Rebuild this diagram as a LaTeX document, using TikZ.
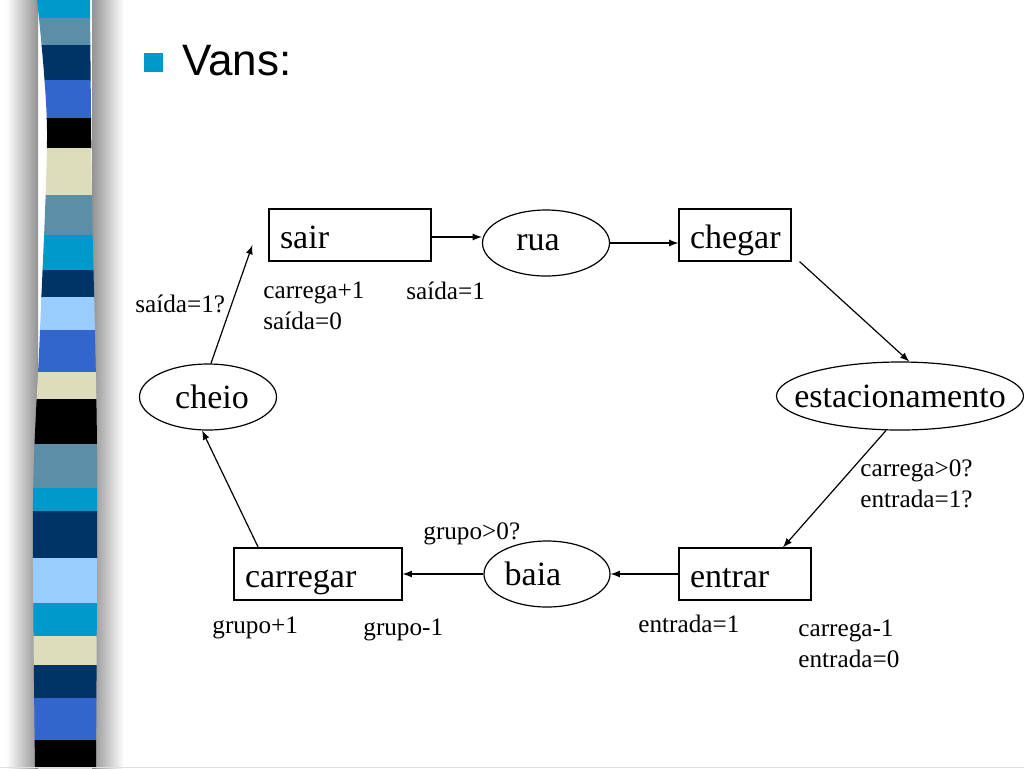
\documentclass[tikz,border=0pt]{standalone}
\usepackage{fontspec}
\setmainfont{Liberation Serif}
\newfontfamily\titlefont{Liberation Sans}
\usepackage{tikz}
\usetikzlibrary{arrows,shapes,positioning}
\definecolor{stcyan}{RGB}{0,153,204}
\definecolor{ststeel}{RGB}{91,143,168}
\definecolor{stnavy}{RGB}{0,51,102}
\definecolor{stroyal}{RGB}{51,102,204}
\definecolor{stbeige}{RGB}{221,221,187}
\definecolor{stlight}{RGB}{153,204,255}
\tikzset{
  trans/.style={rectangle, draw=black, line width=0.6pt, align=left, minimum height=26pt, inner xsep=5.5pt,
    inner ysep=0pt, font=\fontsize{17}{20}\selectfont, execute at begin node=\rule[-0.2em]{0pt}{1.2em}},
  place/.style 2 args={ellipse, draw=black, line width=0.6pt, inner sep=0pt,
    label={[font=\fontsize{17}{20}\selectfont, xshift=#2]center:#1}},
  cond/.style={anchor=west, align=left, inner sep=0pt, font=\fontsize{12.6}{15.5}\selectfont},
  flow/.style={every edge/.style={draw, line width=0.6pt, ->}},
}

\begin{document}
\begin{tikzpicture}[x=0.5pt, y=-0.5pt, >=latex]
  \useasboundingbox (0,0) rectangle (1024,768);
  % side stripe
  \shade[left color=white, right color=gray!85] (6,0) rectangle (38,768);
  \shade[left color=gray!85, right color=white] (92,0) rectangle (124,768);
  \begin{scope}
    \clip plot[smooth] coordinates {(37,0) (47,130) (40,330) (33,500) (35,768)}
      -- plot[smooth] coordinates {(96,768) (97,450) (92,200) (90,0)} -- cycle;
    \foreach \ya/\yb/\col in {0/18/stcyan, 18/45/ststeel, 45/80/stnavy, 80/118/stroyal,
      118/148/black, 148/195/stbeige, 195/235/ststeel, 235/270/stcyan, 270/297/stnavy,
      297/330/stlight, 330/372/stroyal, 372/399/stbeige, 399/444/black, 444/488/ststeel,
      488/511/stcyan, 511/558/stnavy, 558/603/stlight, 603/636/stcyan, 636/665/stbeige,
      665/698/stnavy, 698/740/stroyal, 740/768/black}
      \fill[\col] (0,\ya) rectangle (130,\yb+1);
  \end{scope}
  \draw[gray!25] (0,767) -- (1024,767);

  % title
  \fill[stcyan] (144,53) rectangle (163,72);
  \node[anchor=base west, inner sep=0pt, font=\titlefont\fontsize{22}{26}\selectfont] (title) at (182,75) {Vans:};

  % places and transitions
  \node[trans, text width=70pt] (sair) at (350,235) {sair};
  \node[place={rua}{-4pt}, minimum width=63.5pt, minimum height=33pt] (rua) at (546,243) {};
  \node[trans, text width=45pt] (chegar) at (735,235) {chegar};
  \node[place={estacionamento}{0pt}, minimum width=123.5pt, minimum height=34pt] (est) at (900,396) {};
  \node[trans, text width=55pt] (entrar) at (745,574) {entrar};
  \node[place={baia}{-7pt}, minimum width=63pt, minimum height=33pt] (baia) at (547,574) {};
  \node[trans, text width=73pt] (carregar) at (318,574) {carregar};
  \node[place={cheio}{2pt}, minimum width=68.5pt, minimum height=33pt] (cheio) at (208,397) {};

  % conditions
  \node[cond] (csair) at (263,306) {carrega+1\\saída=0};
  \node[cond] (crua) at (406,291) {saída=1};
  \node[cond] (ccheio) at (135,304) {saída=1?};
  \node[cond] (cest) at (860,484) {carrega>0?\\entrada=1?};
  \node[cond] (cbaia) at (423,534) {grupo>0?};
  \node[cond] (ccarr1) at (212,628) {grupo+1};
  \node[cond] (ccarr2) at (363,630) {grupo-1};
  \node[cond] (centr1) at (638,624) {entrada=1};
  \node[cond] (centr2) at (798,644) {carrega-1\\entrada=0};

  \path[flow]
    (cheio.85) edge ([xshift=-8pt,yshift=-5pt]sair.west)
    ([yshift=-1pt]sair.east) edge ([yshift=-1pt]sair.east -| rua.west)
    (rua.east) edge (rua.east -| chegar.west)
    ([xshift=4pt]chegar.south east) edge (est.75)
    (est.-112) edge (entrar.35)
    (entrar.west) edge (entrar.west -| baia.east)
    (baia.west) edge (baia.west -| carregar.east)
    (carregar.156) edge (cheio.-100);
\end{tikzpicture}
\end{document}
